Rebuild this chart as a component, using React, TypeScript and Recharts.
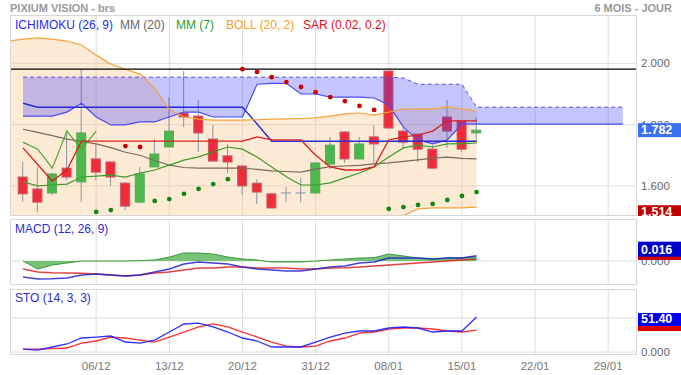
import {
  ComposedChart,
  Line,
  Area,
  Bar,
  XAxis,
  YAxis,
  CartesianGrid,
  ReferenceLine,
} from "recharts"

const FONT = "Arial, 'Liberation Sans', Helvetica, sans-serif"

// -----------------------------
// Price data (index 0 .. 31 = trading days shown)
// -----------------------------
const OPEN = [1.629, 1.590, 1.577, 1.658, 1.613, 1.688, 1.678, 1.609, 1.547, 1.662, 1.727, 1.838, 1.828, 1.753, 1.698, 1.665, 1.609, 1.574, 1.577, 1.577, 1.577, 1.671, 1.776, 1.688, 1.760, 1.975, 1.779, 1.769, 1.720, 1.825, 1.812, 1.773]
const HIGH = [1.678, 1.662, 1.642, 1.782, 1.981, 1.740, 1.680, 1.613, 1.662, 1.753, 1.890, 1.975, 1.880, 1.799, 1.737, 1.665, 1.622, 1.574, 1.596, 1.626, 1.675, 1.760, 1.779, 1.760, 1.799, 1.975, 1.789, 1.769, 1.733, 1.880, 1.812, 1.825]
const LOW = [1.547, 1.514, 1.570, 1.619, 1.547, 1.619, 1.600, 1.521, 1.547, 1.662, 1.727, 1.792, 1.711, 1.681, 1.642, 1.570, 1.541, 1.528, 1.547, 1.547, 1.577, 1.655, 1.675, 1.688, 1.675, 1.789, 1.724, 1.678, 1.655, 1.724, 1.711, 1.743]
const CLOSE = [1.574, 1.547, 1.639, 1.629, 1.773, 1.645, 1.629, 1.534, 1.639, 1.704, 1.779, 1.825, 1.773, 1.681, 1.678, 1.600, 1.580, 1.528, 1.577, 1.577, 1.675, 1.733, 1.688, 1.737, 1.737, 1.789, 1.743, 1.720, 1.658, 1.779, 1.720, 1.782]

// moving averages
const MM20 = [1.785, 1.775, 1.764, 1.753, 1.745, 1.737, 1.725, 1.710, 1.700, 1.683, 1.668, 1.660, 1.658, 1.658, 1.658, 1.658, 1.654, 1.649, 1.647, 1.645, 1.655, 1.663, 1.665, 1.667, 1.672, 1.675, 1.680, 1.685, 1.691, 1.694, 1.690, 1.688]
const MM7 = [1.613, 1.600, 1.603, 1.606, 1.629, 1.632, 1.635, 1.629, 1.642, 1.652, 1.668, 1.684, 1.695, 1.711, 1.727, 1.720, 1.694, 1.662, 1.630, 1.603, 1.603, 1.610, 1.626, 1.642, 1.662, 1.694, 1.724, 1.733, 1.727, 1.737, 1.738, 1.740]

// bollinger (index -1 .. 31)
const BOLL_UP = [2.073, 2.079, 2.083, 2.079, 2.073, 2.060, 2.027, 1.998, 1.981, 1.965, 1.919, 1.850, 1.825, 1.818, 1.815, 1.815, 1.815, 1.816, 1.818, 1.819, 1.820, 1.822, 1.828, 1.835, 1.838, 1.831, 1.841, 1.851, 1.851, 1.851, 1.857, 1.851, 1.844]
const BOLL_LOW = [1.49, 1.49, 1.47, 1.46, 1.44, 1.43, 1.44, 1.45, 1.44, 1.44, 1.44, 1.48, 1.49, 1.50, 1.50, 1.50, 1.50, 1.49, 1.48, 1.48, 1.47, 1.48, 1.48, 1.48, 1.48, 1.48, 1.49, 1.503, 1.525, 1.528, 1.528, 1.528, 1.531]

// ichimoku
const TENKAN = [1.724, 1.670, 1.616, 1.652, 1.746, 1.746, 1.746, 1.746, 1.746, 1.746, 1.746, 1.746, 1.746, 1.746, 1.746, 1.746, 1.760, 1.750, 1.750, 1.750, 1.700, 1.662, 1.652, 1.652, 1.662, 1.750, 1.760, 1.766, 1.779, 1.812, 1.812, 1.812]
const KIJUN = [1.870, 1.857, 1.857, 1.857, 1.857, 1.857, 1.857, 1.857, 1.857, 1.857, 1.857, 1.857, 1.857, 1.857, 1.857, 1.857, 1.802, 1.746, 1.746, 1.746, 1.746, 1.746, 1.746, 1.746, 1.746, 1.746, 1.746, 1.746, 1.746, 1.746, 1.746, 1.746]
const CHIKOU = [1.743, 1.720, 1.658, 1.779, 1.720, 1.779]
// spans go 10 days past the last candle (index 0 .. 41)
const SPAN_A = [1.828, 1.828, 1.828, 1.841, 1.870, 1.825, 1.799, 1.799, 1.809, 1.809, 1.825, 1.841, 1.841, 1.825, 1.825, 1.825, 1.932, 1.935, 1.935, 1.900, 1.900, 1.890, 1.890, 1.890, 1.887, 1.864, 1.792, 1.750, 1.737, 1.750, 1.802, 1.802, 1.802, 1.802, 1.802, 1.802, 1.802, 1.802, 1.802, 1.802, 1.802, 1.802]
const SPAN_B = [1.955, 1.955, 1.955, 1.955, 1.955, 1.955, 1.955, 1.955, 1.955, 1.955, 1.955, 1.955, 1.955, 1.955, 1.955, 1.955, 1.955, 1.955, 1.955, 1.955, 1.955, 1.955, 1.955, 1.955, 1.955, 1.955, 1.952, 1.932, 1.932, 1.932, 1.932, 1.857, 1.857, 1.857, 1.857, 1.857, 1.857, 1.857, 1.857, 1.857, 1.857, 1.857]

// parabolic SAR (null = no dot)
const SAR_UP = [null, null, null, null, null, null, null, 1.730, 1.727, null, null, null, null, null, null, 1.981, 1.972, 1.955, 1.939, 1.923, 1.906, 1.890, 1.877, 1.861, 1.848, null, null, null, null, null, null, null]
const SAR_DOWN = [null, null, null, null, null, 1.515, 1.521, null, null, 1.551, 1.557, 1.574, 1.590, 1.606, 1.622, null, null, null, null, null, null, null, null, null, null, 1.525, 1.531, 1.538, 1.541, 1.554, 1.567, 1.580]

// MACD (12, 26, 9)
const MACD = [-0.048, -0.054, -0.053, -0.051, -0.042, -0.039, -0.042, -0.045, -0.042, -0.033, -0.024, -0.009, -0.003, -0.006, -0.009, -0.018, -0.024, -0.027, -0.030, -0.030, -0.024, -0.018, -0.015, -0.006, -0.003, 0.009, 0.009, 0.009, 0.006, 0.009, 0.009, 0.016]
const SIGNAL = [-0.024, -0.033, -0.035, -0.036, -0.037, -0.039, -0.042, -0.045, -0.042, -0.036, -0.033, -0.027, -0.021, -0.021, -0.018, -0.018, -0.021, -0.021, -0.021, -0.024, -0.024, -0.021, -0.020, -0.018, -0.015, -0.012, -0.009, -0.006, -0.003, 0.000, 0.003, 0.006]
const HIST = [0, -0.024, -0.012, -0.006, 0, 0, 0, 0, 0.001, 0.003, 0.012, 0.024, 0.024, 0.021, 0.012, 0.006, 0.003, -0.003, -0.003, -0.003, 0, 0.003, 0.006, 0.009, 0.010, 0.021, 0.015, 0.009, 0.006, 0.009, 0.010, 0.012]

// stochastic (14, 3, 3)
const STO_K = [4.4, 2.9, 7.4, 11.8, 20.6, 22, 23.5, 14.7, 13.2, 17.6, 29.4, 41.2, 42.6, 36.8, 29.4, 20.6, 16.2, 7.4, 7.4, 7.4, 14.7, 22, 27.9, 30.9, 30.9, 35.3, 36.8, 35.3, 29.4, 30.9, 30.9, 51.4]
const STO_D = [4.4, 4.4, 5.1, 5.9, 13.2, 16.2, 22, 20.6, 17.6, 14.7, 22, 29.4, 36.8, 41.2, 36.8, 29.4, 22, 14.7, 8.8, 7.4, 8.8, 16.2, 20.6, 27.9, 29.4, 33.8, 35.3, 35.3, 33.8, 30.9, 29.4, 32.3]

// x axis
const TICK_IDX = [5, 10, 15, 20, 25, 30, 35, 40]
const TICK_LABELS = ["06/12", "13/12", "20/12", "31/12", "08/01", "15/01", "22/01", "29/01"]
const X_DOMAIN = [-0.89, 41.9]

// -----------------------------
// Build chart rows
// -----------------------------
const priceRows: any[] = []
for (let i = -1; i <= 41; i++) {
  priceRows.push({
    i,
    o: OPEN[i],
    h: HIGH[i],
    l: LOW[i],
    c: CLOSE[i],
    bollUp: BOLL_UP[i + 1],
    bollLow: BOLL_LOW[i + 1],
    mm20: MM20[i],
    mm7: MM7[i],
    tenkan: TENKAN[i],
    kijun: KIJUN[i],
    chikou: CHIKOU[i],
    spanA: SPAN_A[i],
    spanB: SPAN_B[i],
    sarUp: SAR_UP[i],
    sarDown: SAR_DOWN[i],
  })
}
const macdRows = MACD.map((m, i) => ({ i, macd: m, signal: SIGNAL[i], hist: HIST[i] }))
const stoRows = STO_K.map((k, i) => ({ i, k, d: STO_D[i] }))

const LAST_CLOSE = CLOSE[CLOSE.length - 1]
const PERIOD_LOW = Math.min(...LOW)
const PERIOD_HIGH = Math.max(...HIGH)

// -----------------------------
// Shapes
// -----------------------------
function Candle(props: any) {
  const { x, y, width, height, payload } = props
  if (!payload || payload.h == null) return null
  const top = Math.min(y, y + height)
  const span = Math.abs(height)
  const toY = (v: number) => top + ((payload.h - v) / (payload.h - payload.l)) * span
  const cx = x + width / 2
  const bodyTop = toY(Math.max(payload.o, payload.c))
  const bodyBot = toY(Math.min(payload.o, payload.c))
  const wick = <line x1={cx} x2={cx} y1={top} y2={top + span} stroke="#8793a8" strokeWidth={1} />
  if (payload.o === payload.c) {
    return (
      <g>
        {wick}
        <line x1={x} x2={x + width} y1={bodyTop} y2={bodyTop} stroke="#8793a8" strokeWidth={1} />
      </g>
    )
  }
  const up = payload.c > payload.o
  return (
    <g>
      {wick}
      <rect
        x={x + 0.5}
        y={bodyTop}
        width={width - 1}
        height={Math.max(bodyBot - bodyTop, 1)}
        fill={up ? "#4cb84c" : "#f02c38"}
        stroke={up ? "#5aa85a" : "#c65a6a"}
        strokeWidth={1}
      />
    </g>
  )
}

type Badge = { value: number; text: string; color: string; off: number; h: number }

const axisTick = (fmt: (v: number) => string, badges: Badge[]) => (p: any) => {
  const v = p.payload.value
  const b = badges.find((bb) => bb.value === v)
  if (b) {
    return (
      <g>
        <rect x={p.x - 6} y={p.y + b.off} width={50} height={b.h} fill={b.color} />
        {b.text && (
          <text x={p.x - 3} y={p.y + b.off + b.h - 3} fill="#fff" fontSize={12.5} fontWeight="bold" fontFamily={FONT}>
            {b.text}
          </text>
        )}
      </g>
    )
  }
  return (
    <text x={p.x - 3} y={p.y + 4} fill="#666" fontSize={11.5} fontFamily={FONT}>
      {fmt(v)}
    </text>
  )
}

const priceBadges: Badge[] = [
  { value: PERIOD_LOW, text: PERIOD_LOW.toFixed(3), color: "#c00000", off: -7, h: 14 },
  { value: LAST_CLOSE, text: LAST_CLOSE.toFixed(3), color: "#3a6ff2", off: -7, h: 14 },
]
const macdBadges: Badge[] = [
  { value: SIGNAL[SIGNAL.length - 1], text: "", color: "#d00000", off: -14, h: 15 },
  { value: MACD[MACD.length - 1], text: MACD[MACD.length - 1].toFixed(3), color: "#0000c8", off: -14, h: 15 },
]
const stoBadges: Badge[] = [
  { value: STO_D[STO_D.length - 1], text: "", color: "#e00000", off: -14, h: 15 },
  { value: STO_K[STO_K.length - 1], text: STO_K[STO_K.length - 1].toFixed(2), color: "#0000f0", off: -4, h: 13 },
]

const GRID = "#dddddd"

// -----------------------------
// Panels
// -----------------------------
function PriceChart() {
  return (
    <ComposedChart width={681} height={216} data={priceRows} margin={{ top: 15, right: 0, bottom: 1, left: 10 }}>
      <CartesianGrid stroke={GRID} horizontalValues={[1.6, 1.8, 2.0]} verticalValues={TICK_IDX} />
      <XAxis type="number" dataKey="i" domain={X_DOMAIN} allowDataOverflow hide ticks={TICK_IDX} />
      <YAxis
        orientation="right"
        width={45}
        domain={[1.505, 2.158]}
        allowDataOverflow
        ticks={[1.6, 1.8, 2.0, PERIOD_LOW, LAST_CLOSE]}
        interval={0}
        tickLine={false}
        axisLine={false}
        tick={axisTick((v) => v.toFixed(3), priceBadges)}
      />

      {/* Bollinger band */}
      <Area
        dataKey={(d: any) => (d.bollUp == null ? null : [d.bollLow, d.bollUp])}
        stroke="none"
        fill="#f7c98e"
        fillOpacity={0.38}
        isAnimationActive={false}
      />

      <Line dataKey="mm20" stroke="#7c6a5c" strokeWidth={1.2} dot={false} isAnimationActive={false} />
      <Line dataKey="mm7" stroke="#3f9a2c" strokeWidth={1.2} dot={false} isAnimationActive={false} />
      <Line dataKey="chikou" stroke="#4aa534" strokeWidth={1.2} dot={false} isAnimationActive={false} />

      <Bar
        dataKey={(d: any) => (d.h == null ? null : [d.l, d.h])}
        barSize={10}
        shape={<Candle />}
        isAnimationActive={false}
      />

      {/* Ichimoku cloud */}
      <Area
        dataKey={(d: any) => (d.spanA == null ? null : [d.spanA, d.spanB])}
        stroke="none"
        fill="#3c3cff"
        fillOpacity={0.3}
        isAnimationActive={false}
        zIndex={350}
      />
      <Line dataKey="spanB" stroke="#5050ee" strokeWidth={1} strokeDasharray="4 3" dot={false} isAnimationActive={false} />
      <Line dataKey="spanA" stroke="#4a4af2" strokeWidth={1.2} dot={false} isAnimationActive={false} />
      <Line dataKey="kijun" stroke="#2a2ad8" strokeWidth={1.4} dot={false} isAnimationActive={false} />
      <Line dataKey="tenkan" stroke="#d82020" strokeWidth={1.3} dot={false} isAnimationActive={false} />

      <Line dataKey="bollUp" stroke="#f5a23c" strokeWidth={1.2} dot={false} isAnimationActive={false} />
      <Line dataKey="bollLow" stroke="#f5a23c" strokeWidth={1.2} dot={false} isAnimationActive={false} />

      <Line dataKey="sarUp" stroke="none" dot={{ r: 2.4, fill: "#cc0000", stroke: "none" }} isAnimationActive={false} />
      <Line dataKey="sarDown" stroke="none" dot={{ r: 2.4, fill: "#0f8a0f", stroke: "none" }} isAnimationActive={false} />

      <ReferenceLine y={PERIOD_HIGH} stroke="#000" strokeWidth={1.2} />
    </ComposedChart>
  )
}

function MacdChart() {
  return (
    <ComposedChart width={681} height={65} data={macdRows} margin={{ top: 0, right: 0, bottom: 0, left: 10 }}>
      <CartesianGrid stroke={GRID} horizontalValues={[0]} verticalValues={TICK_IDX} />
      <XAxis type="number" dataKey="i" domain={X_DOMAIN} allowDataOverflow hide ticks={TICK_IDX} />
      <YAxis
        orientation="right"
        width={45}
        domain={[-0.069, 0.126]}
        allowDataOverflow
        ticks={[0, SIGNAL[SIGNAL.length - 1], MACD[MACD.length - 1]]}
        interval={0}
        tickLine={false}
        axisLine={false}
        tick={axisTick((v) => v.toFixed(3), macdBadges)}
      />
      <Line dataKey="signal" stroke="#e02020" strokeOpacity={0.85} strokeWidth={1.5} dot={false} isAnimationActive={false} />
      <Line dataKey="macd" stroke="#2020d0" strokeOpacity={0.85} strokeWidth={1.5} dot={false} isAnimationActive={false} />
      <Area dataKey="hist" baseValue={0} stroke="#3a9a3a" strokeWidth={1} fill="#4caf4c" fillOpacity={0.75} isAnimationActive={false} />
    </ComposedChart>
  )
}

function StoChart() {
  return (
    <ComposedChart width={681} height={86} data={stoRows} margin={{ top: 0, right: 0, bottom: 0, left: 10 }}>
      <CartesianGrid stroke={GRID} horizontalValues={[0, 50]} verticalValues={TICK_IDX} />
      <XAxis
        type="number"
        dataKey="i"
        domain={X_DOMAIN}
        allowDataOverflow
        ticks={TICK_IDX}
        interval={0}
        height={21}
        tickLine={false}
        axisLine={false}
        tick={{ fill: "#777", fontSize: 11.5, fontFamily: FONT }}
        tickFormatter={(v: number) => TICK_LABELS[TICK_IDX.indexOf(v)] ?? ""}
      />
      <YAxis
        orientation="right"
        width={45}
        domain={[-2.9, 92.6]}
        allowDataOverflow
        ticks={[0, 50, STO_D[STO_D.length - 1], STO_K[STO_K.length - 1]]}
        interval={0}
        tickLine={false}
        axisLine={false}
        tick={axisTick((v) => (v === 0 ? "0.000" : v.toFixed(2)), stoBadges)}
      />
      <Line dataKey="d" stroke="#ff1a1a" strokeOpacity={0.9} strokeWidth={1.3} dot={false} isAnimationActive={false} />
      <Line dataKey="k" stroke="#1a1aff" strokeOpacity={0.9} strokeWidth={1.3} dot={false} isAnimationActive={false} />
    </ComposedChart>
  )
}

const frame = (top: number, height: number) => ({
  position: "absolute" as const,
  left: 10,
  top,
  width: 627,
  height,
  border: "1px solid #d6d6d6",
  boxSizing: "border-box" as const,
  pointerEvents: "none" as const,
})

const legendItem = (left: number, color: string) => ({
  position: "absolute" as const,
  left,
  top: 18,
  fontSize: 12,
  color,
  whiteSpace: "nowrap" as const,
})

export default function App() {
  return (
    <div
      style={{
        position: "absolute",
        left: 0,
        top: 0,
        width: 681,
        height: 375,
        background: "#fff",
        overflow: "hidden",
        fontFamily: FONT,
      }}
    >
      <div style={{ position: "absolute", left: 0, top: 0 }}>
        <PriceChart />
      </div>
      <div style={{ position: "absolute", left: 0, top: 219 }}>
        <MacdChart />
      </div>
      <div style={{ position: "absolute", left: 0, top: 289 }}>
        <StoChart />
      </div>

      <div style={frame(15, 201)} />
      <div style={frame(219, 66)} />
      <div style={frame(289, 66)} />

      <div style={{ position: "absolute", left: 10, top: 2, fontSize: 11, fontWeight: "bold", color: "#999" }}>
        PIXIUM VISION - brs
      </div>
      <div style={{ position: "absolute", right: 9, top: 2, fontSize: 11, fontWeight: "bold", color: "#999" }}>
        6 MOIS - JOUR
      </div>

      <div style={legendItem(15, "#2b2bf0")}>ICHIMOKU (26, 9)</div>
      <div style={legendItem(120, "#666")}>MM (20)</div>
      <div style={legendItem(176, "#2a9a2a")}>MM (7)</div>
      <div style={legendItem(226, "#f5a030")}>BOLL (20, 2)</div>
      <div style={legendItem(303, "#dd1111")}>SAR (0.02, 0.2)</div>

      <div style={{ position: "absolute", left: 15, top: 222, fontSize: 12, color: "#2b2bd0" }}>MACD (12, 26, 9)</div>
      <div style={{ position: "absolute", left: 15, top: 291, fontSize: 12, color: "#2b2bd0" }}>STO (14, 3, 3)</div>
    </div>
  )
}
